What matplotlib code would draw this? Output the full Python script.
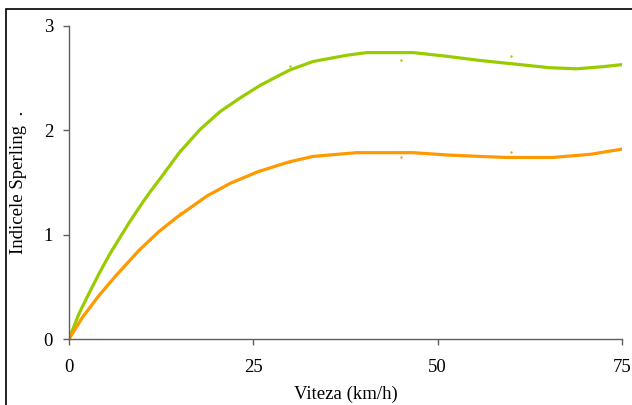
import matplotlib
matplotlib.use("Agg")
import matplotlib.pyplot as plt
from matplotlib.patches import Rectangle

# values
speed_green = [0, 1.4, 2.8, 4.1, 5.5, 6.8, 8.2, 10.0, 11.0, 12.5, 15.0, 17.8, 20.5, 23.2, 25.9,
               28.6, 30.0, 33.1, 37.7, 40.4, 46.7, 51.2, 55.7, 60.5, 65.2, 68.9, 72.4, 75]
sperling_green = [0, 0.25, 0.45, 0.63, 0.81, 0.96, 1.12, 1.31, 1.41, 1.55, 1.79, 2.01, 2.18, 2.31, 2.43,
                  2.53, 2.58, 2.66, 2.72, 2.745, 2.745, 2.71, 2.67, 2.635, 2.60, 2.59, 2.61, 2.63]

speed_orange = [0, 1.85, 4.1, 6.4, 9.5, 12.2, 14.5, 18.7, 21.8, 25.5, 28.6, 30.0, 33.1,
                39.0, 46.7, 51.2, 55.7, 59.4, 65.6, 70.7, 75]
sperling_orange = [0, 0.21, 0.42, 0.61, 0.85, 1.03, 1.16, 1.37, 1.49, 1.60, 1.67, 1.70, 1.75,
                   1.786, 1.786, 1.764, 1.75, 1.74, 1.74, 1.77, 1.82]

# measured points (small dots)
point_speed = [15, 30, 45, 60]
points_green = [1.81, 2.62, 2.67, 2.715]
points_orange = [1.21, 1.70, 1.745, 1.79]

x_ticks = [0, 25, 50, 75]
y_ticks = [0, 1, 2, 3]

GREEN = "#99cc00"
ORANGE = "#ff9900"
AXIS = "#5f5f5f"

plt.rcParams["font.family"] = ["Liberation Serif", "DejaVu Serif"]

fig = plt.figure(figsize=(6.32, 4.05), dpi=100)
ax = fig.add_axes([69 / 632, 1 - 339 / 405, 553 / 632, 313 / 405])

ax.plot(speed_green, sperling_green, color=GREEN, lw=2.3, solid_capstyle="round", solid_joinstyle="round")
ax.plot(speed_orange, sperling_orange, color=ORANGE, lw=2.3, solid_capstyle="round", solid_joinstyle="round")
ax.scatter(point_speed, points_green, s=3, color=GREEN, zorder=3, linewidths=0)
ax.scatter(point_speed, points_orange, s=3, color=ORANGE, zorder=3, linewidths=0)

ax.set_xlim(0, 75)
ax.set_ylim(0, 3)
ax.set_xticks(x_ticks)
ax.set_yticks(y_ticks)
ax.tick_params(axis="both", labelsize=13.5, length=4.5, width=1, color=AXIS, direction="out")
ax.tick_params(axis="x", pad=10)
ax.tick_params(axis="y", pad=7)

for side in ["top", "right"]:
    ax.spines[side].set_visible(False)
for side in ["left", "bottom"]:
    ax.spines[side].set_color(AXIS)
    ax.spines[side].set_linewidth(1)

ax.set_xlabel("Viteza (km/h)", fontsize=13.5, labelpad=7)
ax.set_ylabel("Indicele Sperling  .", fontsize=13.5, labelpad=12)

# frame round the whole chart
fig.patches.append(Rectangle((6 / 632, -0.05), 1.1, 1 - 9 / 405 + 0.05,
                             transform=fig.transFigure, fill=False,
                             edgecolor="black", lw=1.2))

fig.savefig("out.png", dpi=100)
